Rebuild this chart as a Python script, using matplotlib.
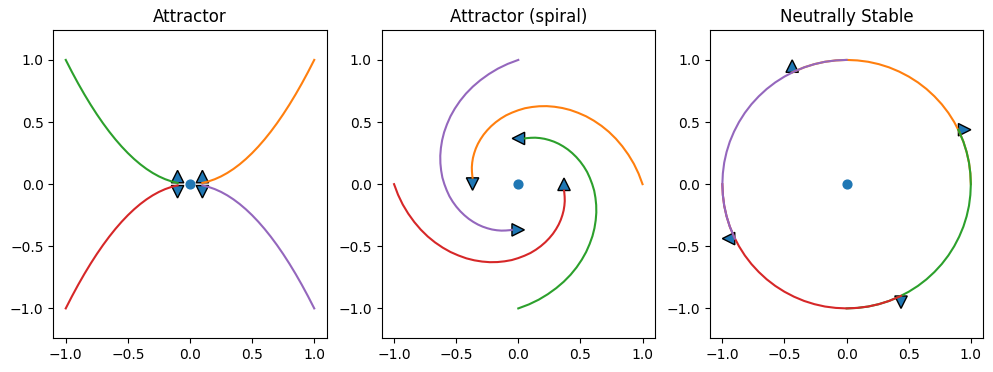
import matplotlib
matplotlib.use("Agg")
import matplotlib.pyplot as plt

# Attractor (node): one curve per corner, order orange, green, red, purple
attr_orange_x = [1.0, 0.95, 0.9, 0.85, 0.8, 0.75, 0.7, 0.65, 0.6, 0.55, 0.5, 0.45, 0.4, 0.35, 0.3, 0.25, 0.2, 0.15, 0.1]
attr_orange_y = [1.0, 0.9025, 0.81, 0.7225, 0.64, 0.5625, 0.49, 0.4225, 0.36, 0.3025, 0.25, 0.2025, 0.16, 0.1225, 0.09, 0.0625, 0.04, 0.0225, 0.01]
attr_green_x = [-1.0, -0.95, -0.9, -0.85, -0.8, -0.75, -0.7, -0.65, -0.6, -0.55, -0.5, -0.45, -0.4, -0.35, -0.3, -0.25, -0.2, -0.15, -0.1]
attr_green_y = [1.0, 0.9025, 0.81, 0.7225, 0.64, 0.5625, 0.49, 0.4225, 0.36, 0.3025, 0.25, 0.2025, 0.16, 0.1225, 0.09, 0.0625, 0.04, 0.0225, 0.01]
attr_red_x = [-1.0, -0.95, -0.9, -0.85, -0.8, -0.75, -0.7, -0.65, -0.6, -0.55, -0.5, -0.45, -0.4, -0.35, -0.3, -0.25, -0.2, -0.15, -0.1]
attr_red_y = [-1.0, -0.9025, -0.81, -0.7225, -0.64, -0.5625, -0.49, -0.4225, -0.36, -0.3025, -0.25, -0.2025, -0.16, -0.1225, -0.09, -0.0625, -0.04, -0.0225, -0.01]
attr_purple_x = [1.0, 0.95, 0.9, 0.85, 0.8, 0.75, 0.7, 0.65, 0.6, 0.55, 0.5, 0.45, 0.4, 0.35, 0.3, 0.25, 0.2, 0.15, 0.1]
attr_purple_y = [-1.0, -0.9025, -0.81, -0.7225, -0.64, -0.5625, -0.49, -0.4225, -0.36, -0.3025, -0.25, -0.2025, -0.16, -0.1225, -0.09, -0.0625, -0.04, -0.0225, -0.01]
attr_arrow_dirs = [(0, 1), (0, 1), (0, -1), (0, -1)]

# Attractor (spiral)
spir_orange_x = [1.000, 0.968, 0.930, 0.886, 0.837, 0.785, 0.729, 0.670, 0.608, 0.546, 0.482, 0.418,
                 0.354, 0.291, 0.229, 0.168, 0.110, 0.053, 0.000, -0.050, -0.098, -0.141, -0.181, -0.218,
                 -0.250, -0.279, -0.304, -0.325, -0.342, -0.355, -0.365, -0.371, -0.374, -0.373, -0.370, -0.368]
spir_orange_y = [0.000, 0.085, 0.164, 0.237, 0.305, 0.366, 0.421, 0.469, 0.511, 0.546, 0.574, 0.597,
                 0.613, 0.623, 0.628, 0.627, 0.621, 0.611, 0.595, 0.576, 0.554, 0.528, 0.499, 0.467,
                 0.434, 0.399, 0.362, 0.325, 0.287, 0.249, 0.211, 0.173, 0.136, 0.100, 0.065, 0.052]
spir_green_x = [0.000, 0.085, 0.164, 0.237, 0.305, 0.366, 0.421, 0.469, 0.511, 0.546, 0.574, 0.597,
                0.613, 0.623, 0.628, 0.627, 0.621, 0.611, 0.595, 0.576, 0.554, 0.528, 0.499, 0.467,
                0.434, 0.399, 0.362, 0.325, 0.287, 0.249, 0.211, 0.173, 0.136, 0.100, 0.065, 0.052]
spir_green_y = [-1.000, -0.968, -0.930, -0.886, -0.837, -0.785, -0.729, -0.670, -0.608, -0.546, -0.482, -0.418,
                -0.354, -0.291, -0.229, -0.168, -0.110, -0.053, 0.000, 0.050, 0.098, 0.141, 0.181, 0.218,
                0.250, 0.279, 0.304, 0.325, 0.342, 0.355, 0.365, 0.371, 0.374, 0.373, 0.370, 0.368]
spir_red_x = [-1.000, -0.968, -0.930, -0.886, -0.837, -0.785, -0.729, -0.670, -0.608, -0.546, -0.482, -0.418,
              -0.354, -0.291, -0.229, -0.168, -0.110, -0.053, 0.000, 0.050, 0.098, 0.141, 0.181, 0.218,
              0.250, 0.279, 0.304, 0.325, 0.342, 0.355, 0.365, 0.371, 0.374, 0.373, 0.370, 0.368]
spir_red_y = [0.000, -0.085, -0.164, -0.237, -0.305, -0.366, -0.421, -0.469, -0.511, -0.546, -0.574, -0.597,
              -0.613, -0.623, -0.628, -0.627, -0.621, -0.611, -0.595, -0.576, -0.554, -0.528, -0.499, -0.467,
              -0.434, -0.399, -0.362, -0.325, -0.287, -0.249, -0.211, -0.173, -0.136, -0.100, -0.065, -0.052]
spir_purple_x = [0.000, -0.085, -0.164, -0.237, -0.305, -0.366, -0.421, -0.469, -0.511, -0.546, -0.574, -0.597,
                 -0.613, -0.623, -0.628, -0.627, -0.621, -0.611, -0.595, -0.576, -0.554, -0.528, -0.499, -0.467,
                 -0.434, -0.399, -0.362, -0.325, -0.287, -0.249, -0.211, -0.173, -0.136, -0.100, -0.065, -0.052]
spir_purple_y = [1.000, 0.968, 0.930, 0.886, 0.837, 0.785, 0.729, 0.670, 0.608, 0.546, 0.482, 0.418,
                 0.354, 0.291, 0.229, 0.168, 0.110, 0.053, 0.000, -0.050, -0.098, -0.141, -0.181, -0.218,
                 -0.250, -0.279, -0.304, -0.325, -0.342, -0.355, -0.365, -0.371, -0.374, -0.373, -0.370, -0.368]
spir_arrow_dirs = [(0, -1), (-1, 0), (0, 1), (1, 0)]

# Neutrally stable (circle arcs)
circ_orange_x = [1.0, 0.996, 0.985, 0.966, 0.940, 0.906, 0.866, 0.819, 0.766, 0.707, 0.643, 0.574, 0.5,
                 0.423, 0.342, 0.259, 0.174, 0.087, 0.0, -0.087, -0.174, -0.259, -0.342, -0.423, -0.438]
circ_orange_y = [0.0, 0.087, 0.174, 0.259, 0.342, 0.423, 0.5, 0.574, 0.643, 0.707, 0.766, 0.819, 0.866,
                 0.906, 0.940, 0.966, 0.985, 0.996, 1.0, 0.996, 0.985, 0.966, 0.940, 0.906, 0.899]
circ_green_x = [0.0, 0.087, 0.174, 0.259, 0.342, 0.423, 0.5, 0.574, 0.643, 0.707, 0.766, 0.819, 0.866,
                0.906, 0.940, 0.966, 0.985, 0.996, 1.0, 0.996, 0.985, 0.966, 0.940, 0.906, 0.899]
circ_green_y = [-1.0, -0.996, -0.985, -0.966, -0.940, -0.906, -0.866, -0.819, -0.766, -0.707, -0.643, -0.574, -0.5,
                -0.423, -0.342, -0.259, -0.174, -0.087, 0.0, 0.087, 0.174, 0.259, 0.342, 0.423, 0.438]
circ_red_x = [-1.0, -0.996, -0.985, -0.966, -0.940, -0.906, -0.866, -0.819, -0.766, -0.707, -0.643, -0.574, -0.5,
              -0.423, -0.342, -0.259, -0.174, -0.087, 0.0, 0.087, 0.174, 0.259, 0.342, 0.423, 0.438]
circ_red_y = [0.0, -0.087, -0.174, -0.259, -0.342, -0.423, -0.5, -0.574, -0.643, -0.707, -0.766, -0.819, -0.866,
              -0.906, -0.940, -0.966, -0.985, -0.996, -1.0, -0.996, -0.985, -0.966, -0.940, -0.906, -0.899]
circ_purple_x = [0.0, -0.087, -0.174, -0.259, -0.342, -0.423, -0.5, -0.574, -0.643, -0.707, -0.766, -0.819, -0.866,
                 -0.906, -0.940, -0.966, -0.985, -0.996, -1.0, -0.996, -0.985, -0.966, -0.940, -0.906, -0.899]
circ_purple_y = [1.0, 0.996, 0.985, 0.966, 0.940, 0.906, 0.866, 0.819, 0.766, 0.707, 0.643, 0.574, 0.5,
                 0.423, 0.342, 0.259, 0.174, 0.087, 0.0, -0.087, -0.174, -0.259, -0.342, -0.423, -0.438]
circ_arrow_dirs = [(0, 1), (1, 0), (0, -1), (-1, 0)]

curve_colors = ["C1", "C2", "C3", "C4"]

panels = [
    ("Attractor",
     [(attr_orange_x, attr_orange_y), (attr_green_x, attr_green_y),
      (attr_red_x, attr_red_y), (attr_purple_x, attr_purple_y)],
     attr_arrow_dirs),
    ("Attractor (spiral)",
     [(spir_orange_x, spir_orange_y), (spir_green_x, spir_green_y),
      (spir_red_x, spir_red_y), (spir_purple_x, spir_purple_y)],
     spir_arrow_dirs),
    ("Neutrally Stable",
     [(circ_orange_x, circ_orange_y), (circ_green_x, circ_green_y),
      (circ_red_x, circ_red_y), (circ_purple_x, circ_purple_y)],
     circ_arrow_dirs),
]

fig, axes = plt.subplots(1, 3, figsize=(9.93, 3.72), dpi=100)
fig.subplots_adjust(left=0.0537, right=0.9902, bottom=0.0914, top=0.9185, wspace=0.2011)

for ax, (title, curves, dirs) in zip(axes, panels):
    # fixed point at the origin
    ax.scatter([0], [0], s=40, color="C0")
    for (xs, ys), (ux, uy), c in zip(curves, dirs, curve_colors):
        ax.plot(xs, ys, color=c)
        # arrow head at the end of the trajectory
        ax.arrow(xs[-1], ys[-1], ux * 1e-3, uy * 1e-3, head_width=0.1,
                 head_length=0.1, fc="C0", ec="k")
    ax.set_title(title)
    ax.set_xticks([-1.0, -0.5, 0.0, 0.5, 1.0])
    ax.set_yticks([-1.0, -0.5, 0.0, 0.5, 1.0])
    ax.set_aspect("equal", adjustable="datalim")

fig.savefig("out.png", dpi=100)
